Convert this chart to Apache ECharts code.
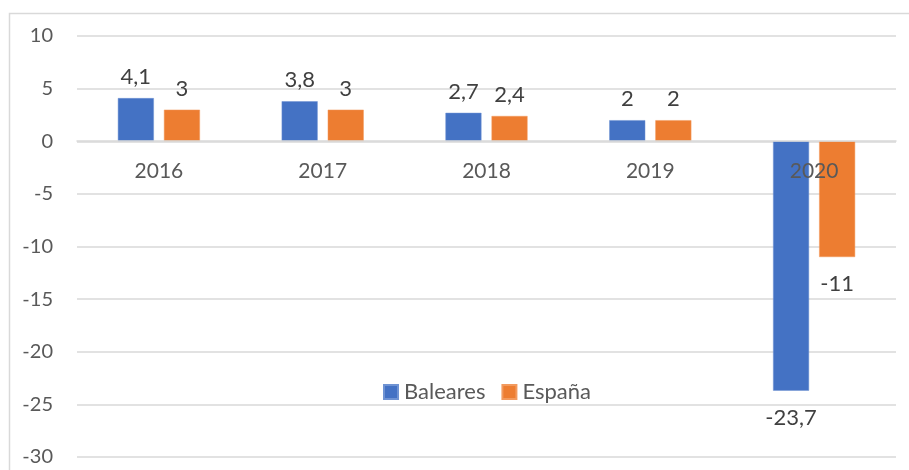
<!doctype html>
<html lang="es">
  <head>
    <meta charset="UTF-8" />
    <title>Baleares vs España</title>
    <script src="https://cdn.jsdelivr.net/npm/echarts/dist/echarts.min.js"></script>
    <style>
      html, body { margin: 0; padding: 0; background: #fff; }
      #main { width: 909px; height: 470px; }
    </style>
  </head>
  <body>
    <div id="main"></div>
    <script>
      // datos
      const years = ["2016", "2017", "2018", "2019", "2020"];
      const baleares = [4.1, 3.8, 2.7, 2, -23.7];
      const espana = [3, 3, 2.4, 2, -11];

      const chart = echarts.init(document.getElementById("main"));
      const font = "Lato, 'Noto Sans', sans-serif";

      // coma decimal
      const fmt = (p) => String(p.value).replace(".", ",");

      function toData(arr) {
        return arr.map((v) => ({
          value: v,
          label: v < 0 ? { position: "bottom", distance: 16 } : { position: "top", distance: 10 },
        }));
      }

      const labelStyle = {
        show: true,
        formatter: fmt,
        color: "#404040",
        fontSize: 22,
        fontFamily: font,
      };

      chart.setOption({
        animation: false,
        graphic: [
          {
            type: "rect",
            shape: { x: 9.5, y: 13.5, width: 920, height: 480 },
            style: { fill: "none", stroke: "#d9d9d9", lineWidth: 1.5 },
            silent: true,
          },
        ],
        grid: { left: 77, right: 13, top: 36, bottom: 13, containLabel: false, outerBoundsMode: "none" },
        legend: {
          left: 383,
          top: 381,
          padding: 0,
          itemWidth: 14,
          itemHeight: 14,
          itemGap: 16,
          icon: "rect",
          textStyle: { color: "#595959", fontSize: 22, fontFamily: font, padding: [0, 0, 0, 1] },
          data: ["Baleares", "España"],
        },
        xAxis: {
          type: "category",
          data: years,
          z: 10,
          // eje de categorías a la altura del cero
          offset: -316,
          axisLine: { onZero: false, lineStyle: { color: "#d9d9d9", width: 1.5 } },
          axisTick: { show: false },
          axisLabel: { color: "#595959", fontSize: 21, fontFamily: font, margin: 20 },
        },
        yAxis: {
          type: "value",
          min: -30,
          max: 10,
          interval: 5,
          axisLine: { show: false },
          axisTick: { show: false },
          axisLabel: { color: "#595959", fontSize: 20, fontFamily: font, margin: 24 },
          splitLine: { lineStyle: { color: "#d9d9d9", width: 1.5 } },
        },
        series: [
          {
            name: "Baleares",
            type: "bar",
            data: toData(baleares),
            barWidth: 36,
            barGap: "28%",
            itemStyle: { color: "#4472C4", borderColor: "#6f93d3", borderWidth: 0.5 },
            label: labelStyle,
          },
          {
            name: "España",
            type: "bar",
            data: toData(espana),
            barWidth: 36,
            itemStyle: { color: "#ED7D31", borderColor: "#f29a5e", borderWidth: 0.5 },
            label: labelStyle,
          },
        ],
      });
    </script>
  </body>
</html>
